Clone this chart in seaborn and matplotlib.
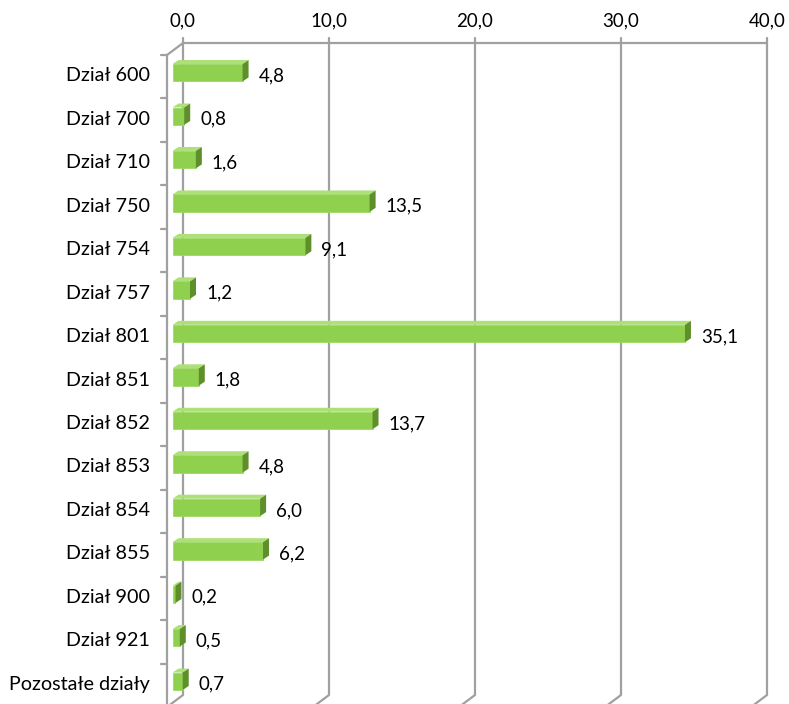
import matplotlib
matplotlib.use("Agg")
import matplotlib.pyplot as plt
import seaborn as sns
import numpy as np

categories = ["Dział 600", "Dział 700", "Dział 710", "Dział 750", "Dział 754",
              "Dział 757", "Dział 801", "Dział 851", "Dział 852", "Dział 853",
              "Dział 854", "Dział 855", "Dział 900", "Dział 921", "Pozostałe działy"]
values = [4.8, 0.8, 1.6, 13.5, 9.1, 1.2, 35.1, 1.8, 13.7, 4.8, 6.0, 6.2, 0.2, 0.5, 0.7]
xticks = [0, 10, 20, 30, 40]
xtick_labels = ["0,0", "10,0", "20,0", "30,0", "40,0"]

sns.set_style("white")
plt.rcParams['font.family'] = ['Lato', 'DejaVu Sans']

W, H, DPI = 789, 704, 100
fig = plt.figure(figsize=(W / DPI, H / DPI), dpi=DPI)

# bar front plane in pixels
x0, x1 = 172.5, 172.5 + 40 * 14.6
ytop, ybot = 51, 703
ax = fig.add_axes([x0 / W, 1 - ybot / H, (x1 - x0) / W, (ybot - ytop) / H])

front = "#8FD14F"
topc = "#AEE078"
side = "#5F8F2B"
grid = "#A0A0A0"
FS = 13.5

sns.barplot(x=values, y=categories, orient="h", color=front, width=0.4,
            ax=ax, saturation=1, edgecolor="#9ED966", linewidth=0.6, zorder=3)
ax.set_xlim(0, 40)
ax.set_ylim(len(categories) - 0.5, -0.5)
ax.axis("off")

pxx = (x1 - x0) / 40.0
pxy = (ybot - ytop) / len(categories)

def off(dx_px, dy_px_up):
    return dx_px / pxx, -dy_px_up / pxy

# bar depth
bdx, bdy = off(6, 4)
bw = 0.4
for i, v in enumerate(values):
    yt = i - bw / 2
    yb = i + bw / 2
    ax.fill([0, v, v + bdx, bdx], [yt, yt, yt + bdy, yt + bdy],
            color=topc, zorder=4, lw=0)
    ax.fill([v, v + bdx, v + bdx, v], [yt, yt + bdy, yb + bdy, yb],
            color=side, zorder=4, lw=0)
    lbl = f"{v:.1f}".replace(".", ",")
    ax.text(v + 16 / pxx, i + 3 / pxy, lbl, va="center", ha="left",
            fontsize=FS, color="black", zorder=5)

# walls / grid
gbx, gby = off(10.5, 8)     # back plane
wfx, wfy = off(-5.5, -4)    # wall front plane
lw = 1.6
ytop_d, ybot_d = -0.5, len(categories) - 0.5
for t, tl in zip(xticks, xtick_labels):
    ax.plot([t + gbx, t + gbx], [ytop_d + gby, ybot_d + gby], color=grid,
            lw=lw, zorder=1, clip_on=False, solid_capstyle="butt")
    ax.plot([t + gbx, t + gbx], [ytop_d + gby, ytop_d + gby - 5 / pxy],
            color=grid, lw=lw, zorder=1, clip_on=False)
    ax.plot([t + gbx, t + wfx], [ybot_d + gby, ybot_d + wfy], color=grid,
            lw=lw, zorder=1, clip_on=False)
    ax.text(t + gbx, ytop_d + gby - 22 / pxy, tl,
            ha="center", va="center", fontsize=FS, color="black")
ax.plot([0 + gbx, 40 + gbx], [ytop_d + gby, ytop_d + gby], color=grid, lw=lw,
        zorder=1, clip_on=False)
ax.plot([wfx, wfx], [ytop_d + wfy, ybot_d + wfy], color=grid, lw=lw,
        zorder=1, clip_on=False)
ax.plot([wfx, gbx], [ytop_d + wfy, ytop_d + gby], color=grid, lw=lw,
        zorder=1, clip_on=False)
for k in range(len(categories) + 1):
    yy = k - 0.5 + wfy
    ax.plot([wfx, wfx - 6 / pxx], [yy, yy], color=grid, lw=lw, zorder=1,
            clip_on=False)
for i, c in enumerate(categories):
    ax.text(wfx - 17 / pxx, i + wfy - 1 / pxy, c, ha="right", va="center",
            fontsize=14.2, color="black")

fig.savefig("out.png", dpi=DPI)
